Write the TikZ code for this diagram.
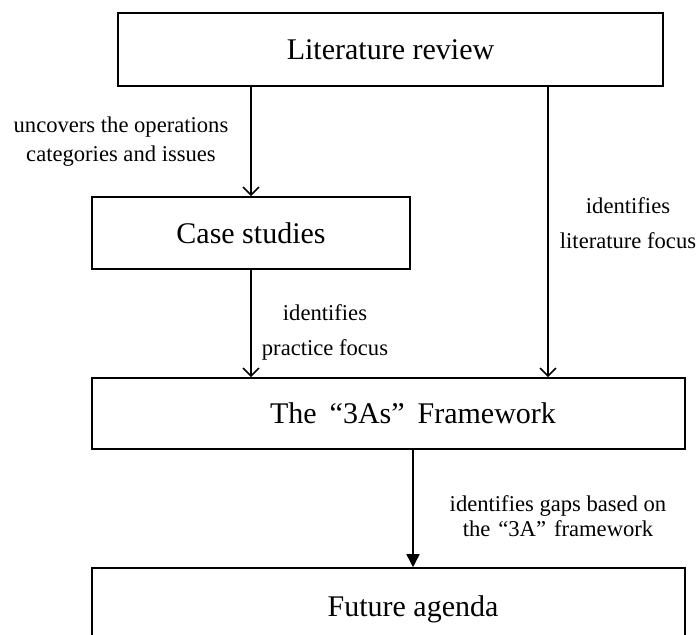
\documentclass[tikz,border=0pt]{standalone}
\usepackage{fontspec}
\setmainfont{Liberation Serif}
\usetikzlibrary{arrows.meta}
\tikzset{
  box/.style={draw, line width=1.6pt, inner sep=0pt},
  big/.style={font=\fontsize{30}{36}\selectfont},
  lbl/.style={font=\fontsize{22.6}{29}\selectfont, align=center},
  barb/.style={-{Straight Barb[length=8pt,width=16pt]}, line width=1.6pt},
  filled/.style={-{Triangle[length=13pt,width=13pt]}, line width=1.6pt}
}
\begin{document}
\begin{tikzpicture}[x=1pt,y=-1pt]
      \useasboundingbox (0,0) rectangle (698,634);
      \node[box, big, minimum width=545pt, minimum height=73pt] (lit) at (390.5,49.5) {Literature review};
      \node[box, big, minimum width=318pt, minimum height=72pt] (case) at (251,233) {Case studies};
      \node[box, minimum width=593pt, minimum height=71pt,
        label={[big, name=frame-t, xshift=24.5pt]center:The\hspace{13pt}“3As”\hspace{13pt}Framework}] (frame) at (388.5,413.5) {};
      \node[box, minimum width=593pt, minimum height=77pt,
        label={[big, name=agenda-t, xshift=24.5pt, yshift=-3pt]center:Future agenda}] (agenda) at (388.5,606.5) {};
      \coordinate (side) at (548,86);
      \node[lbl] (l1) at (121,142) {uncovers the operations\\categories and issues};
      \node[lbl] (l2) at (325,332) {identifies\\[6pt]practice focus};
      \node[lbl] (l3) at (628,223) {identifies\\[6pt]literature focus};
      \node[lbl, font=\fontsize{22.6}{25}\selectfont] (l4) at (558,516) {identifies gaps based on\\the\hspace{8pt}“3A”\hspace{8pt}framework};
      \begin{scope}
        \draw[barb] (lit.south -| case.north) to (case.north);
        \draw[barb] (case.south) to (case.south |- frame.north);
        \draw[barb] (side) to (side |- frame.north);
        \draw[filled] (frame-t |- frame.south) to (frame-t |- agenda.north);
      \end{scope}
    \end{tikzpicture}
\end{document}
